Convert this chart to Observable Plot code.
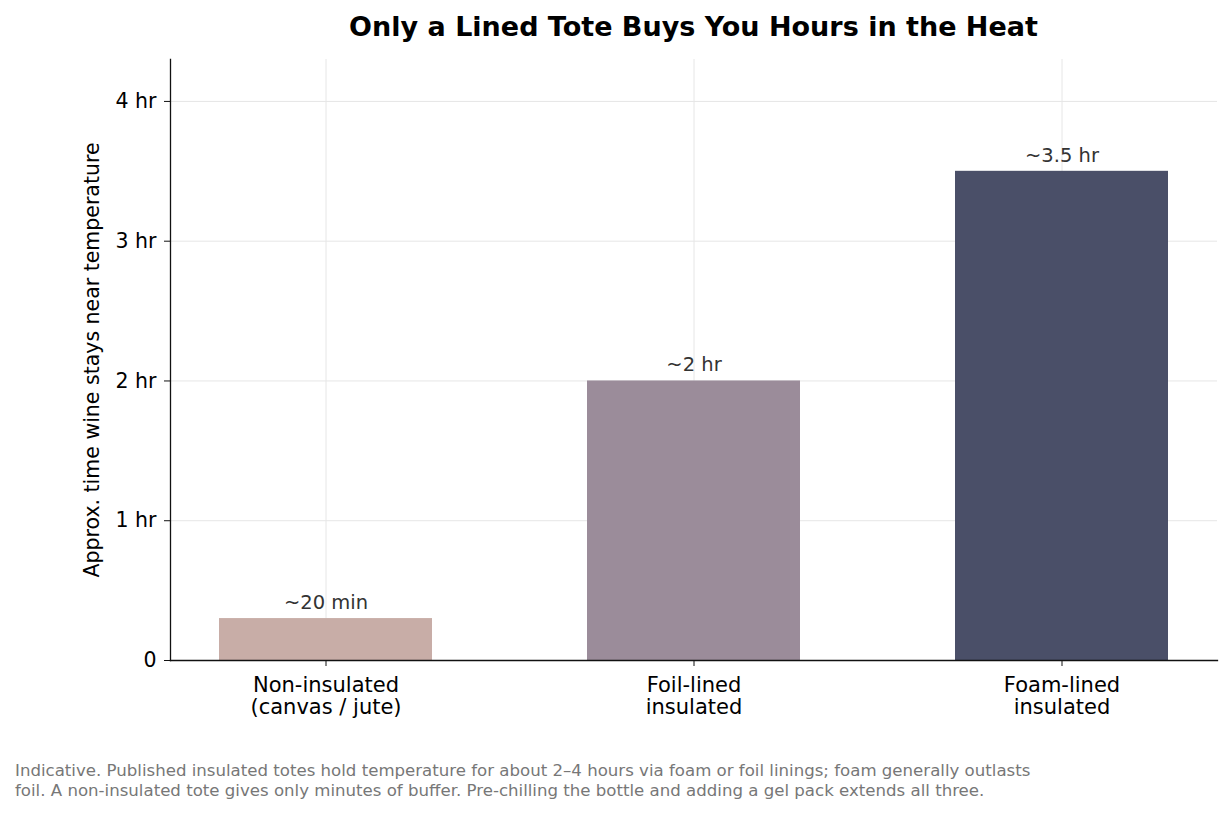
<!DOCTYPE html>
<html>
<head>
<meta charset="utf-8">
<script src="https://cdn.jsdelivr.net/npm/d3@7"></script>
<script src="https://cdn.jsdelivr.net/npm/@observablehq/plot@0.6"></script>
<style>
  html, body { margin: 0; padding: 0; background: #fff; }
  body { width: 1231px; height: 815px; font-family: "DejaVu Sans", sans-serif; }
  #title { height: 50px; line-height: 50px; padding: 2px 14px 0 170px; box-sizing: border-box;
           text-align: center; font-size: 27px; font-weight: bold; color: #000; }
  #caption { margin: 31px 0 0 15px; font-size: 16.6px; line-height: 20px; color: #777; }
  svg { display: block; }
</style>
</head>
<body>
<div id="title">Only a Lined Tote Buys You Hours in the Heat</div>
<div id="chart"></div>
<div id="caption">Indicative. Published insulated totes hold temperature for about 2–4 hours via foam or foil linings; foam generally outlasts<br>foil. A non-insulated tote gives only minutes of buffer. Pre-chilling the bottle and adding a gel pack extends all three.</div>
<script>
const categories = ["Non-insulated\n(canvas / jute)", "Foil-lined\ninsulated", "Foam-lined\ninsulated"];
const hours = [0.3, 2, 3.5];
const valueLabels = ["~20 min", "~2 hr", "~3.5 hr"];
const colors = ["#c8ada7", "#9b8c9a", "#4a4f68"];
const yTicks = [0, 1, 2, 3, 4];

const data = categories.map((c, i) => ({cat: c, hours: hours[i], label: valueLabels[i], color: colors[i]}));

const chart = Plot.plot({
  width: 1231,
  height: 680,
  marginTop: 9,
  marginBottom: 70,
  marginLeft: 170,
  marginRight: 14,
  style: {fontFamily: "DejaVu Sans, sans-serif", fontSize: "20px", color: "#000", background: "#fff"},
  x: {domain: categories, paddingInner: 0.42, paddingOuter: 0.13, label: null},
  y: {domain: [0, 4.3], label: null},
  marks: [
    Plot.gridY(yTicks, {stroke: "#e6e6e6", strokeOpacity: 1, strokeWidth: 1}),
    Plot.gridX(categories, {stroke: "#e6e6e6", strokeOpacity: 1, strokeWidth: 1}),
    Plot.barY(data, {x: "cat", y: "hours", fill: "color"}),
    Plot.text(data, {x: "cat", y: "hours", text: "label", dy: -16, lineAnchor: "middle", fill: "#333", fontSize: 19.5}),
    Plot.axisY(yTicks, {tickSize: 6, tickPadding: 8, stroke: "#111", fontSize: 20.5,
      tickFormat: d => d === 0 ? "0" : `${d} hr`,
      label: "Approx. time wine stays near temperature", labelAnchor: "center", labelArrow: "none", labelOffset: 86}),
    Plot.axisX(categories, {tickSize: 6, tickPadding: 10, stroke: "#111", fontSize: 21, lineHeight: 1.05, label: null}),
    Plot.frame({anchor: "left", stroke: "#111", strokeWidth: 1.3}),
    Plot.frame({anchor: "bottom", stroke: "#111", strokeWidth: 1.3})
  ]
});
document.getElementById("chart").appendChild(chart);
</script>
</body>
</html>
